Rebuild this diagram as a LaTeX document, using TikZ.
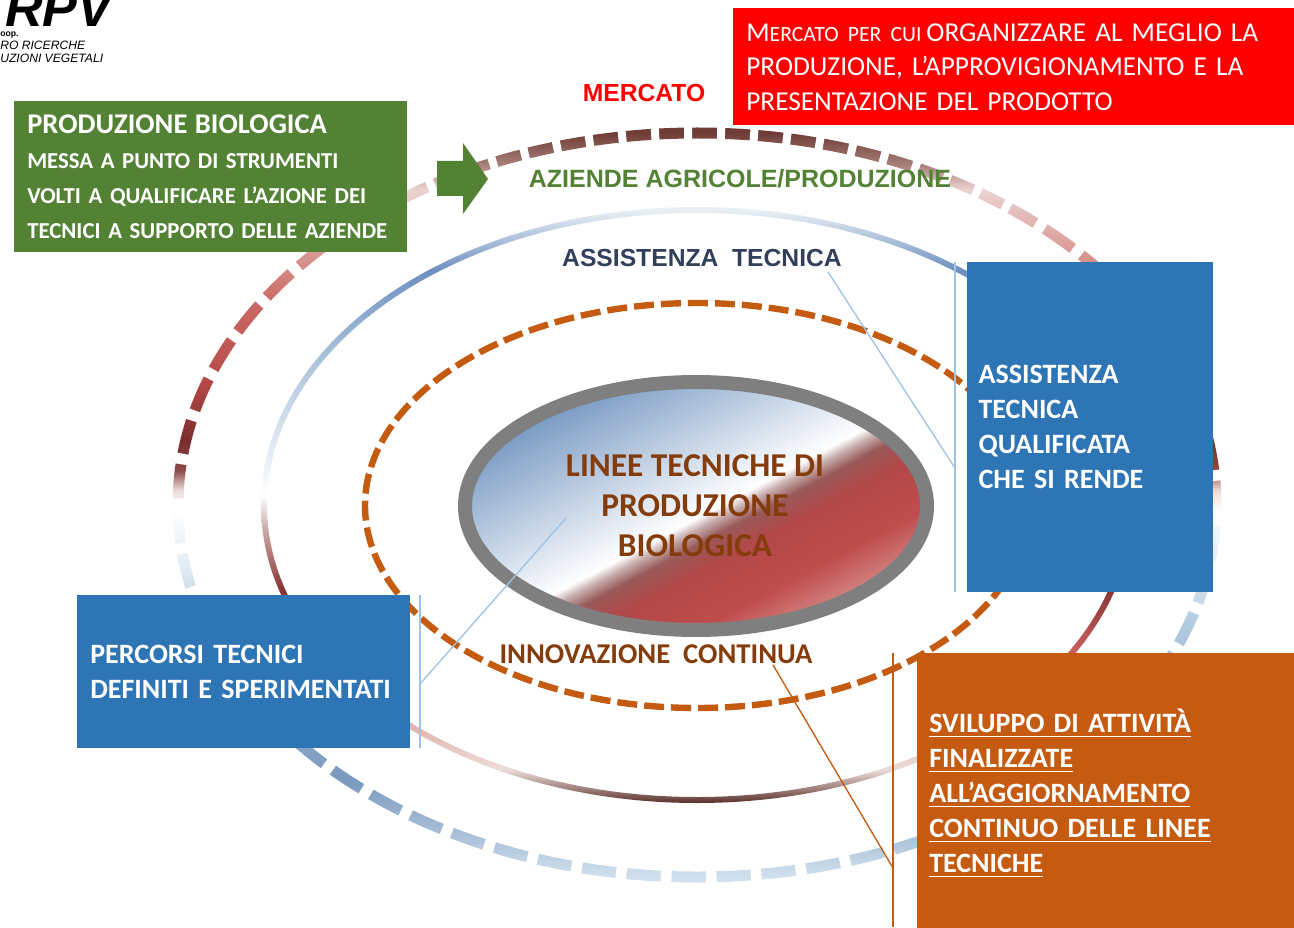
\documentclass[tikz,border=0pt]{standalone}
\usepackage{fontspec}
\setmainfont{Carlito}
\newfontfamily\arialfont{Liberation Sans}
\newcommand{\panelul}[1]{\leavevmode\setbox0\hbox{#1}\rlap{\vrule width\wd0 height-2.2pt depth3.4pt}\box0}
\definecolor{bluepanel}{HTML}{2E75B6}
\definecolor{greenpanel}{HTML}{548235}
\definecolor{orangepanel}{HTML}{C55A11}
\definecolor{brownlabel}{HTML}{843C0C}
\definecolor{navylabel}{HTML}{323F5A}
\definecolor{leaderblue}{HTML}{9DC3E6}
\definecolor{coregrey}{HTML}{7F7F7F}
\pgfdeclareverticalshading{marketring}{100bp}{
  rgb(0bp)=(.82,.88,.93); rgb(25.3bp)=(.82,.88,.93); rgb(31.8bp)=(.48,.60,.75);
  rgb(42.4bp)=(.71,.80,.88); rgb(45.7bp)=(.88,.92,.95); rgb(49.7bp)=(1,1,1);
  rgb(51bp)=(.92,.85,.84); rgb(52.3bp)=(.55,.29,.28); rgb(54.3bp)=(.48,.18,.18);
  rgb(58.3bp)=(.71,.29,.28); rgb(63.6bp)=(.80,.42,.40); rgb(70.9bp)=(.92,.83,.82);
  rgb(72.5bp)=(.66,.50,.48); rgb(74.7bp)=(.43,.23,.21); rgb(100bp)=(.43,.23,.21)}
\pgfdeclareverticalshading{assistring}{100bp}{
  rgb(0bp)=(.35,.18,.16); rgb(25bp)=(.35,.18,.16); rgb(26.1bp)=(.60,.48,.46);
  rgb(27.8bp)=(.92,.86,.85); rgb(30.7bp)=(.90,.74,.72); rgb(37.6bp)=(.80,.38,.38);
  rgb(42.9bp)=(.54,.20,.20); rgb(47.9bp)=(.79,.66,.65); rgb(50.8bp)=(1,1,1);
  rgb(63bp)=(.65,.75,.85); rgb(69.7bp)=(.43,.56,.75); rgb(72.6bp)=(.71,.78,.87);
  rgb(74.7bp)=(.91,.94,.96); rgb(100bp)=(.91,.94,.96)}
\pgfdeclareverticalshading{coreshade}{100bp}{
  rgb(0bp)=(.84,.56,.55); rgb(36.7bp)=(.84,.56,.55); rgb(40.8bp)=(.75,.30,.30);
  rgb(45bp)=(.70,.28,.28); rgb(47.1bp)=(.60,.35,.35); rgb(48.3bp)=(.79,.69,.69);
  rgb(49.1bp)=(1,1,1); rgb(62.5bp)=(.48,.61,.77); rgb(100bp)=(.48,.61,.77)}
\tikzset{
  panel/.style 2 args={anchor=north west, inner xsep=9.75pt, inner ysep=0pt, text width=#1,
    minimum height=#2, align=left, text=white},
  leader/.style={draw=leaderblue, line width=1pt},
  leaderorange/.style={draw=orangepanel, line width=1pt},
  panelfont/.style={font=\bfseries\fontsize{21}{26.25}\selectfont},
  ringlabel/.style={inner sep=0.75pt, font=\arialfont\bfseries\fontsize{18.5}{22}\selectfont}
}
\begin{document}
\begin{tikzpicture}[x=0.75pt,y=0.75pt,yscale=-1,xscale=1]
\useasboundingbox (0,0) rectangle (1294,927);

%Shape: Ellipse [market ring]
\shade[shading=marketring, even odd rule] (697,505) ellipse [x radius=524.5, y radius=377.5] (697,505) ellipse [x radius=513.5, y radius=366.5];
\draw[white, line width=10pt, dash pattern=on 6pt off 18.75pt, dash phase=20.25pt] (697,505) ++(230:519 and 372) arc [start angle=230, end angle=310, x radius=519, y radius=372];
\draw[white, line width=10pt, dash pattern=on 8pt off 25.75pt, dash phase=29.35pt] (697,505) ++(310:519 and 372) arc [start angle=310, end angle=590, x radius=519, y radius=372];
%Shape: Ellipse [assistance ring]
\shade[shading=assistring, even odd rule] (697,505) ellipse [x radius=436, y radius=298] (697,505) ellipse [x radius=430, y radius=292];
%Shape: Ellipse [innovation ring]
\draw[orangepanel, line width=4.8pt, dash pattern=on 15pt off 5.25pt] (697,505.5) ellipse [x radius=332, y radius=202.5];
%Shape: Ellipse [core]
\begin{scope}
\clip (696,506) ellipse [x radius=231, y radius=124];
\shade[shading=coreshade, shading angle=28] (396,206) rectangle (996,806);
\end{scope}
\draw[coregrey, line width=10.5pt] (696,506) ellipse [x radius=231, y radius=124];

%Shape: Arrow
\fill[greenpanel] (437,161) -- (463,161) -- (463,143) -- (488,179) -- (463,214) -- (463,196) -- (437,196) -- cycle;

% Text Node
\draw (5,27) node [anchor=base west][inner sep=0pt, font=\arialfont\bfseries\itshape\fontsize{39}{39}\selectfont] (logoname) {RPV};
\draw (0,31.5) node [anchor=north west][inner sep=0pt, font=\arialfont\bfseries\fontsize{6.5}{8}\selectfont] (logocoop) {oop.};
\draw (0,41) node [anchor=north west][inner sep=0pt, font=\arialfont\itshape\fontsize{9.1}{11}\selectfont] (logoline) {RO RICERCHE};
\draw (0,54) node [anchor=north west][inner sep=0pt, font=\arialfont\itshape\fontsize{9.1}{11}\selectfont] (logolinetwo) {UZIONI VEGETALI};

% Panels
\draw (733,8) node [panel={401.25pt}{87.75pt}, fill=red, font=\fontsize{20.5}{25.9}\selectfont] (panelmarket) {M{\fontsize{16.3}{25.9}\selectfont ERCATO PER CUI}\hspace{.18em}ORGANIZZARE AL MEGLIO LA\\PRODUZIONE, L’APPROVIGIONAMENTO E LA\\PRESENTAZIONE DEL PRODOTTO};
\draw (14,101) node [panel={275.25pt}{113.25pt}, fill=greenpanel, font=\bfseries\fontsize{17.1}{26.25}\selectfont] (panelorganic) {{\fontsize{21.4}{26.25}\selectfont PRODUZIONE BIOLOGICA}\\MESSA A PUNTO DI STRUMENTI\\VOLTI A QUALIFICARE L’AZIONE DEI\\TECNICI A SUPPORTO DELLE AZIENDE};
\draw (967,262) node [panel={167.5pt}{247.5pt}, fill=bluepanel, panelfont, inner xsep=8.5pt] (panelassist) {ASSISTENZA\\TECNICA\\QUALIFICATA\\CHE SI RENDE};
\draw (77,595) node [panel={230.25pt}{114.75pt}, fill=bluepanel, panelfont] (panelroutes) {PERCORSI TECNICI\\DEFINITI E SPERIMENTATI};
\draw (917,653) node [panel={268.5pt}{210pt}, fill=orangepanel, panelfont, inner xsep=9pt] (panelupdate) {\panelul{SVILUPPO DI ATTIVITÀ}\\\panelul{FINALIZZATE}\\\panelul{ALL’AGGIORNAMENTO}\\\panelul{CONTINUO DELLE LINEE}\\\panelul{TECNICHE}};

% Text Node
\draw (644,93) node [ringlabel, text=red] (lblmarket) {MERCATO};
\draw (740,179) node [ringlabel, text=greenpanel, font=\arialfont\bfseries\fontsize{18.75}{22}\selectfont] (lblfarms) {AZIENDE AGRICOLE/PRODUZIONE};
\draw (702,258) node [ringlabel, text=navylabel] (lblassist) {ASSISTENZA\ \ TECNICA};
\draw (656,654) node [inner sep=0.75pt, text=brownlabel, font=\bfseries\fontsize{21.5}{22}\selectfont] (lblinnov) {INNOVAZIONE\ \ CONTINUA};
\draw (695,506) node [inner sep=0.75pt, align=center, text=brownlabel, font=\bfseries\fontsize{25}{30}\selectfont] (lblcore) {LINEE TECNICHE DI\\PRODUZIONE\\BIOLOGICA};

% Connectors
\coordinate (tipassist) at (828,272);
\coordinate (barassist) at (955,468);
\coordinate (tiproutes) at (566,518);
\coordinate (barroutes) at (420,684);
\coordinate (tipupdate) at (773,665);
\coordinate (barupdate) at (893,868);
\draw[leader] (955,262) -- (955,592);
\draw[leader] (tipassist) -- (barassist);
\draw[leader] (420,595) -- (420,748);
\draw[leader] (tiproutes) -- (barroutes);
\draw[leaderorange] (893,653) -- (893,927);
\draw[leaderorange] (tipupdate) -- (barupdate);

\end{tikzpicture}
\end{document}
